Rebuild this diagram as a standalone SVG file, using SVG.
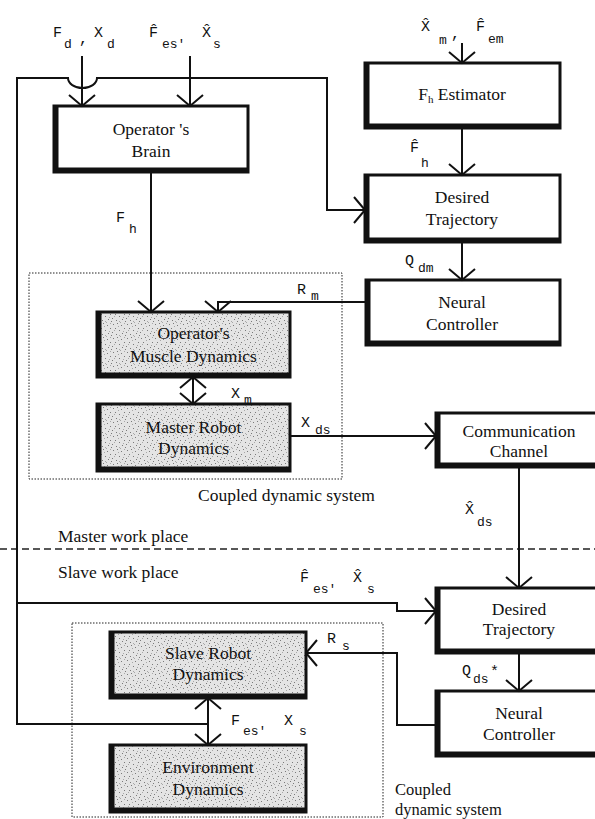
<svg xmlns="http://www.w3.org/2000/svg" width="595" height="819" viewBox="0 0 595 819">
  <defs>
    <style>
      .box { fill: #ffffff; stroke: #111; stroke-width: 3; }
      .gray { fill: url(#speckle); stroke: #111; stroke-width: 3; }
      .edge { fill: none; stroke: #111; stroke-width: 5; }
      .lbl { font-family: "Liberation Serif", "Times New Roman", serif; font-size: 17.5px; fill: #111; text-anchor: middle; }
      .cap { font-family: "Liberation Serif", "Times New Roman", serif; font-size: 17.5px; fill: #111; }
      .cap2 { font-family: "Liberation Serif", "Times New Roman", serif; font-size: 16.5px; fill: #111; }
      .m { font-family: "Liberation Mono", "Courier New", monospace; font-size: 15px; fill: #111; }
      .s { font-family: "Liberation Mono", "Courier New", monospace; font-size: 13px; fill: #111; }
      .wire { fill: none; stroke: #111; stroke-width: 2; }
      .arr { marker-end: url(#v); }
      .both { marker-start: url(#v); marker-end: url(#v); }
      .group { fill: none; stroke: #222; stroke-width: 1; stroke-dasharray: 1.5 1.5; }
      .split { fill: none; stroke: #222; stroke-width: 1.5; stroke-dasharray: 7 4; }
    </style>
    <pattern id="speckle" width="14" height="14" patternUnits="userSpaceOnUse">
      <rect width="14" height="14" fill="#e4e4e4"/>
      <g fill="#7a7a7a">
        <rect x="1" y="2" width="1" height="1"/>
        <rect x="5" y="1" width="1" height="1"/>
        <rect x="9" y="3" width="1" height="1"/>
        <rect x="12" y="6" width="1" height="1"/>
        <rect x="3" y="6" width="1" height="1"/>
        <rect x="7" y="8" width="1" height="1"/>
        <rect x="0" y="10" width="1" height="1"/>
        <rect x="4" y="12" width="1" height="1"/>
        <rect x="10" y="11" width="1" height="1"/>
        <rect x="13" y="13" width="1" height="1"/>
      </g>
      <g fill="#a8a8a8">
        <rect x="2" y="8" width="1" height="1"/>
        <rect x="8" y="0" width="1" height="1"/>
        <rect x="11" y="9" width="1" height="1"/>
        <rect x="6" y="4" width="1" height="1"/>
        <rect x="12" y="1" width="1" height="1"/>
        <rect x="7" y="13" width="1" height="1"/>
      </g>
    </pattern>
    <marker id="v" viewBox="-13 -15 15 30" markerWidth="15" markerHeight="30" refX="0" refY="0" orient="auto-start-reverse" markerUnits="userSpaceOnUse">
      <path d="M-11,-13 L0,0 L-11,13" fill="none" stroke="#111" stroke-width="2"/>
    </marker>
  </defs>

  <rect width="595" height="819" fill="#ffffff"/>

  <!-- coupled dynamic system frames -->
  <g id="coupled-master">
    <rect class="group" x="29" y="273" width="313" height="206"/>
    <text class="cap" x="198" y="501">Coupled dynamic system</text>
  </g>
  <g id="coupled-slave">
    <rect class="group" x="72" y="623" width="311" height="194"/>
    <text class="cap2" x="395" y="795">Coupled</text>
    <text class="cap2" x="395" y="815">dynamic system</text>
  </g>

  <!-- work place split -->
  <g id="workplace">
    <line class="split" x1="0" y1="549" x2="595" y2="549"/>
    <text class="cap" x="58" y="542">Master work place</text>
    <text class="cap" x="58" y="578">Slave work place</text>
  </g>

  <!-- blocks -->
  <g id="brain">
    <rect class="box" x="54" y="106" width="194" height="66"/>
    <path class="edge" d="M56,106 V170 H248"/>
    <text class="lbl" x="151" y="135">Operator 's</text>
    <text class="lbl" x="151" y="157">Brain</text>
  </g>
  <g id="fh-estimator">
    <rect class="box" x="365" y="63" width="195" height="65"/>
    <path class="edge" d="M367,63 V126 H560"/>
    <text class="lbl" x="462" y="100">F<tspan font-size="11" dy="3">h</tspan><tspan dy="-3"> Estimator</tspan></text>
  </g>
  <g id="desired-master">
    <rect class="box" x="365" y="175" width="195" height="67"/>
    <path class="edge" d="M367,175 V240 H560"/>
    <text class="lbl" x="462" y="203">Desired</text>
    <text class="lbl" x="462" y="225">Trajectory</text>
  </g>
  <g id="neural-master">
    <rect class="box" x="366" y="280" width="194" height="65"/>
    <path class="edge" d="M368,280 V343 H560"/>
    <text class="lbl" x="462" y="308">Neural</text>
    <text class="lbl" x="462" y="330">Controller</text>
  </g>
  <g id="muscle">
    <rect class="gray" x="97" y="312" width="193" height="65"/>
    <path class="edge" d="M99,312 V375 H290"/>
    <text class="lbl" x="193.5" y="339">Operator's</text>
    <text class="lbl" x="193.5" y="362">Muscle Dynamics</text>
  </g>
  <g id="master-robot">
    <rect class="gray" x="97" y="404" width="193" height="67"/>
    <path class="edge" d="M99,404 V469 H290"/>
    <text class="lbl" x="193.5" y="433">Master Robot</text>
    <text class="lbl" x="193.5" y="454">Dynamics</text>
  </g>
  <g id="channel">
    <rect class="box" x="436" y="413" width="170" height="54"/>
    <path class="edge" d="M438,413 V465 H606"/>
    <text class="lbl" x="519" y="437">Communication</text>
    <text class="lbl" x="519" y="457">Channel</text>
  </g>
  <g id="desired-slave">
    <rect class="box" x="436" y="588" width="170" height="65"/>
    <path class="edge" d="M438,588 V651 H606"/>
    <text class="lbl" x="519" y="615">Desired</text>
    <text class="lbl" x="519" y="635">Trajectory</text>
  </g>
  <g id="neural-slave">
    <rect class="box" x="436" y="691" width="170" height="65"/>
    <path class="edge" d="M438,691 V754 H606"/>
    <text class="lbl" x="519" y="719">Neural</text>
    <text class="lbl" x="519" y="740">Controller</text>
  </g>
  <g id="slave-robot">
    <rect class="gray" x="110" y="632" width="196" height="66"/>
    <path class="edge" d="M112,632 V696 H306"/>
    <text class="lbl" x="208" y="659">Slave Robot</text>
    <text class="lbl" x="208" y="680">Dynamics</text>
  </g>
  <g id="environment">
    <rect class="gray" x="110" y="745" width="196" height="67"/>
    <path class="edge" d="M112,745 V810 H306"/>
    <text class="lbl" x="208" y="773">Environment</text>
    <text class="lbl" x="208" y="795">Dynamics</text>
  </g>

  <!-- connectors -->
  <g id="connectors">
    <line class="wire arr" x1="82" y1="56" x2="82" y2="106"/>
    <line class="wire arr" x1="190" y1="56" x2="190" y2="106"/>
    <path class="wire arr" d="M208,724 H17 V78 H68 A14.5,10 0 0 0 97,78 H327 V210 H365"/>
    <path class="wire arr" d="M17,603 H397 V611 H436"/>
    <line class="wire arr" x1="462" y1="43" x2="462" y2="63"/>
    <line class="wire arr" x1="462" y1="128" x2="462" y2="175"/>
    <line class="wire arr" x1="462" y1="242" x2="462" y2="280"/>
    <line class="wire arr" x1="151" y1="172" x2="151" y2="312"/>
    <path class="wire arr" d="M366,302 H218 V312"/>
    <line class="wire both" x1="193" y1="377" x2="193" y2="404"/>
    <line class="wire arr" x1="290" y1="436" x2="436" y2="436"/>
    <line class="wire arr" x1="519" y1="467" x2="519" y2="588"/>
    <line class="wire arr" x1="519" y1="653" x2="519" y2="691"/>
    <path class="wire arr" d="M436,725 H397 V653 H306"/>
    <line class="wire both" x1="208" y1="698" x2="208" y2="745"/>
  </g>

  <!-- signal labels (hatted symbols use a combining circumflex) -->
  <g id="signals">
    <text class="m" x="53" y="37">F</text><text class="s" x="64" y="48">d</text>
    <text class="m" x="79" y="43">,</text>
    <text class="m" x="94" y="37">X</text><text class="s" x="107" y="48">d</text>

    <text class="m" x="149" y="37">F&#x302;</text>
    <text class="s" x="162" y="48">es'</text>
    <text class="m" x="202" y="37">X&#x302;</text>
    <text class="s" x="213" y="48">s</text>

    <text class="m" x="421" y="31">X&#x302;</text>
    <text class="s" x="439" y="44">m</text>
    <text class="m" x="451" y="38">,</text>
    <text class="m" x="476" y="31">F&#x302;</text>
    <text class="s" x="488" y="43">em</text>

    <text class="m" x="410" y="152">F&#x302;</text>
    <text class="s" x="421" y="167">h</text>

    <text class="m" x="116" y="222">F</text><text class="s" x="129" y="233">h</text>
    <text class="m" x="405" y="265">Q</text><text class="s" x="418" y="272">dm</text>
    <text class="m" x="297" y="294">R</text><text class="s" x="311" y="300">m</text>
    <text class="m" x="231" y="398">X</text><text class="s" x="244" y="404">m</text>
    <text class="m" x="301" y="427">X</text><text class="s" x="315" y="434">ds</text>

    <text class="m" x="465" y="514">X&#x302;</text>
    <text class="s" x="477" y="526">ds</text>

    <text class="m" x="300" y="582">F&#x302;</text>
    <text class="s" x="313" y="593">es'</text>
    <text class="m" x="353" y="582">X&#x302;</text>
    <text class="s" x="367" y="593">s</text>

    <text class="m" x="462" y="675">Q</text><text class="s" x="473" y="683">ds</text>
    <text class="m" x="490" y="676">*</text>
    <text class="m" x="327" y="643">R</text><text class="s" x="342" y="650">s</text>

    <text class="m" x="231" y="725">F</text><text class="s" x="243" y="735">es'</text>
    <text class="m" x="284" y="725">X</text><text class="s" x="299" y="735">s</text>
  </g>
</svg>
